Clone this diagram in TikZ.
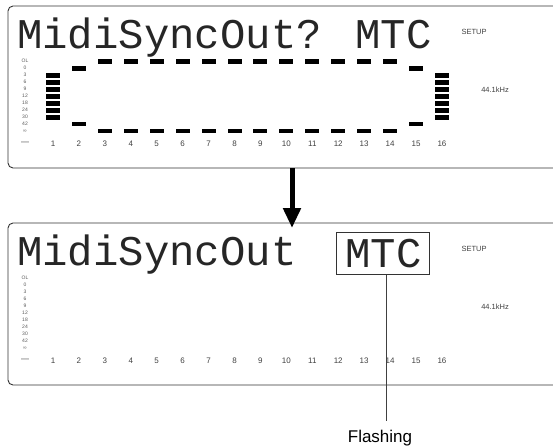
\documentclass[tikz,border=0pt]{standalone}
\usepackage{fontspec}
\setmainfont{Liberation Sans}
\newfontfamily\lcdfont{Liberation Mono}
\usetikzlibrary{arrows.meta,positioning}

\begin{document}
\begin{tikzpicture}[
  x=1pt,
  y=-1pt,
  panel/.style={draw=black!80, line width=0.9pt, rounded corners=5pt},
  lcd/.style={font=\lcdfont\fontsize{42.3}{42.3}\selectfont, text=black!85, inner sep=0pt},
  seg/.style={fill=black},
  scale label/.style={font=\fontsize{5}{5}\selectfont, text=black!65, inner sep=0pt},
  ch label/.style={font=\fontsize{8}{8}\selectfont, text=black!75, inner sep=0pt},
  tag/.style={font=\fontsize{7.5}{7.5}\selectfont, text=black!75, inner sep=0pt},
  leader/.style={draw=black!75, line width=0.9pt},
]
  \newcommand*{\ChPitch}{25.93}
  \newcommand*{\PanelShift}{217}

  \useasboundingbox (0,0) rectangle (553,447);

  % the two display panels, open to the right
  \draw[panel] (553,6) -- (8,6) -- (8,168) -- (553,168);
  \draw[panel] (553,6+\PanelShift) -- (8,6+\PanelShift)
    -- (8,168+\PanelShift) -- (553,168+\PanelShift);

  % meter scale, channel numbers and tags, node names: sc0-1, ch0-1, ...
  \foreach \p in {0,1} {
    \foreach \lab [count=\k from 0] in {OL,0,3,6,9,12,18,24,30,42,∞}
      \node[scale label] (sc\p-\k) at (25,{61+7*\k+\p*\PanelShift}) {\lab};
    \node[ch label] (dash\p) at (25,{143.7+\p*\PanelShift}) {\textemdash};
    \foreach \c in {1,...,16}
      \node[ch label] (ch\p-\c) at ({53+(\c-1)*\ChPitch},{143.7+\p*\PanelShift}) {\c};
    \node[tag] (setup\p) at (474,{32+\p*\PanelShift}) {SETUP};
    \node[tag] (rate\p) at (495,{90+\p*\PanelShift}) {44.1kHz};
  }

  % level bars of channel 1 and 16
  \foreach \k in {0,...,6} {
    \fill[seg] (46,{73.3+7*\k}) rectangle ++(14,4.3);
    \fill[seg] ({46+15*\ChPitch},{73.3+7*\k}) rectangle ++(14,4.3);
  }
  % channel 2 and 15
  \foreach \c in {2,15} {
    \fill[seg] ({46+(\c-1)*\ChPitch},66.3) rectangle ++(14,4.3);
    \fill[seg] ({46+(\c-1)*\ChPitch},122) rectangle ++(14,4.3);
  }
  % channel 3 to 14
  \foreach \c in {3,...,14} {
    \fill[seg] ({46+(\c-1)*\ChPitch},59.3) rectangle ++(14,4.3);
    \fill[seg] ({46+(\c-1)*\ChPitch},129) rectangle ++(14,4.3);
  }

  % display texts
  \node[lcd, anchor=base west] (prompt) at (17,48) {MidiSyncOut? MTC};
  \node[lcd, anchor=base west] (param) at (17,{48+\PanelShift}) {MidiSyncOut};
  \node[lcd, draw=black!80, line width=0.9pt, minimum width=93pt,
    minimum height=42pt] (mtc) at (383.4,253.3) {MTC};

  % step arrow between the panels
  \coordinate (stepfrom) at (292,168);
  \coordinate (stepto) at (292,228);
  \draw[line width=5pt, -{Triangle[width=17pt,length=20pt]}] (stepfrom) -- (stepto);

  % flashing callout
  \node[font=\fontsize{17}{17}\selectfont, inner sep=0pt] (flash) at (380,438) {Flashing};
  \coordinate (leadtop) at ([xshift=3.3pt]mtc.south);
  \coordinate (leadend) at ([yshift=9pt]flash.north);
  \draw[leader] (leadtop) -- (leadtop |- leadend);

\end{tikzpicture}
\end{document}
